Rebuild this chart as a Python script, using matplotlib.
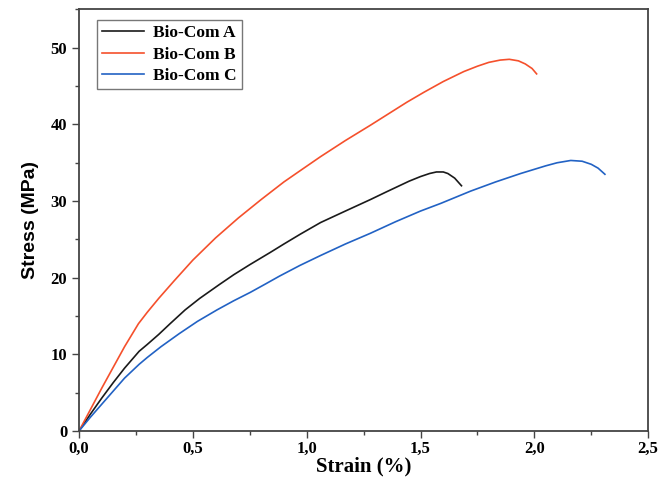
import matplotlib
matplotlib.use("Agg")
import matplotlib.pyplot as plt
from matplotlib.ticker import MultipleLocator, FuncFormatter

# Strain (%) / stress (MPa) points
strain_a = [0, 0.05, 0.10, 0.15, 0.20, 0.264, 0.30, 0.35, 0.40, 0.466, 0.53,
            0.616, 0.68, 0.75, 0.84, 0.90, 0.973, 1.061, 1.17, 1.28, 1.35,
            1.40, 1.45, 1.50, 1.54, 1.57, 1.60, 1.62, 1.65, 1.68]
stress_a = [0, 2.2, 4.3, 6.3, 8.2, 10.4, 11.3, 12.6, 14.0, 15.8, 17.3,
            19.1, 20.4, 21.7, 23.3, 24.4, 25.7, 27.2, 28.7, 30.2, 31.2,
            31.9, 32.6, 33.2, 33.6, 33.8, 33.8, 33.6, 33.0, 32.0]

strain_b = [0, 0.05, 0.10, 0.15, 0.20, 0.261, 0.30, 0.35, 0.418, 0.50, 0.60,
            0.70, 0.80, 0.90, 0.973, 1.061, 1.17, 1.28, 1.36, 1.44, 1.515,
            1.60, 1.69, 1.75, 1.80, 1.85, 1.89, 1.93, 1.96, 1.99, 2.01]
stress_b = [0, 2.8, 5.6, 8.3, 11.0, 14.0, 15.5, 17.3, 19.6, 22.3, 25.2,
            27.8, 30.2, 32.5, 34.0, 35.8, 37.9, 39.9, 41.4, 42.9, 44.2,
            45.6, 46.9, 47.6, 48.1, 48.4, 48.5, 48.3, 47.9, 47.3, 46.6]

strain_c = [0, 0.05, 0.10, 0.15, 0.20, 0.264, 0.30, 0.36, 0.44, 0.52, 0.606,
            0.68, 0.753, 0.82, 0.88, 0.97, 1.061, 1.17, 1.28, 1.39, 1.50,
            1.589, 1.72, 1.83, 1.94, 2.05, 2.10, 2.16, 2.21, 2.25, 2.28, 2.31]
stress_c = [0, 1.8, 3.5, 5.2, 6.9, 8.7, 9.6, 11.0, 12.7, 14.3, 15.8,
            17.0, 18.1, 19.2, 20.2, 21.6, 22.9, 24.4, 25.8, 27.3, 28.7,
            29.7, 31.3, 32.5, 33.6, 34.6, 35.0, 35.3, 35.2, 34.8, 34.3, 33.5]

labels = ["Bio-Com A", "Bio-Com B", "Bio-Com C"]
colors = ["#1a1a1a", "#f5502c", "#2262c4"]

fig = plt.figure(figsize=(6.68, 4.87), dpi=100)
ax = fig.add_axes([0.1183, 0.115, 0.852, 0.8655])

for xs, ys, lab, col in zip([strain_a, strain_b, strain_c],
                            [stress_a, stress_b, stress_c], labels, colors):
    ax.plot(xs, ys, color=col, lw=1.2, label=lab, solid_joinstyle="round")

ax.set_xlim(0, 2.5)
ax.set_ylim(0, 55)
ax.xaxis.set_major_locator(MultipleLocator(0.5))
ax.xaxis.set_minor_locator(MultipleLocator(0.25))
ax.yaxis.set_major_locator(MultipleLocator(10))
ax.yaxis.set_minor_locator(MultipleLocator(5))
ax.xaxis.set_major_formatter(FuncFormatter(lambda v, p: f"{v:.1f}".replace(".", ",")))
ax.yaxis.set_major_formatter(FuncFormatter(lambda v, p: f"{v:.0f}"))

for s in ax.spines.values():
    s.set_linewidth(1.3)
    s.set_color("#444444")
ax.tick_params(which="both", direction="out", colors="#444444", width=1.0,
               top=False, right=False)
ax.tick_params(which="major", length=5, labelcolor="black")
ax.tick_params(axis="x", which="major", pad=2)
ax.tick_params(which="minor", length=3)
for lbl in ax.get_xticklabels() + ax.get_yticklabels():
    lbl.set_fontfamily("Liberation Serif")
    lbl.set_fontweight("bold")
    lbl.set_fontsize(12)

ax.set_xlabel("Strain (%)", fontfamily="Liberation Serif", fontweight="bold",
              fontsize=15, labelpad=0)
ax.set_ylabel("Stress (MPa)", fontfamily="Liberation Sans", fontweight="bold",
              fontsize=14, labelpad=8)

leg = ax.legend(loc="upper left", bbox_to_anchor=(0.032, 0.975), borderaxespad=0,
                fancybox=False, edgecolor="#555555", handlelength=2.4,
                borderpad=0.3, labelspacing=0.3, handletextpad=0.5,
                prop={"family": "Liberation Serif", "weight": "bold", "size": 12.5})
leg.get_frame().set_linewidth(1.0)

fig.savefig("out.png", dpi=100)
